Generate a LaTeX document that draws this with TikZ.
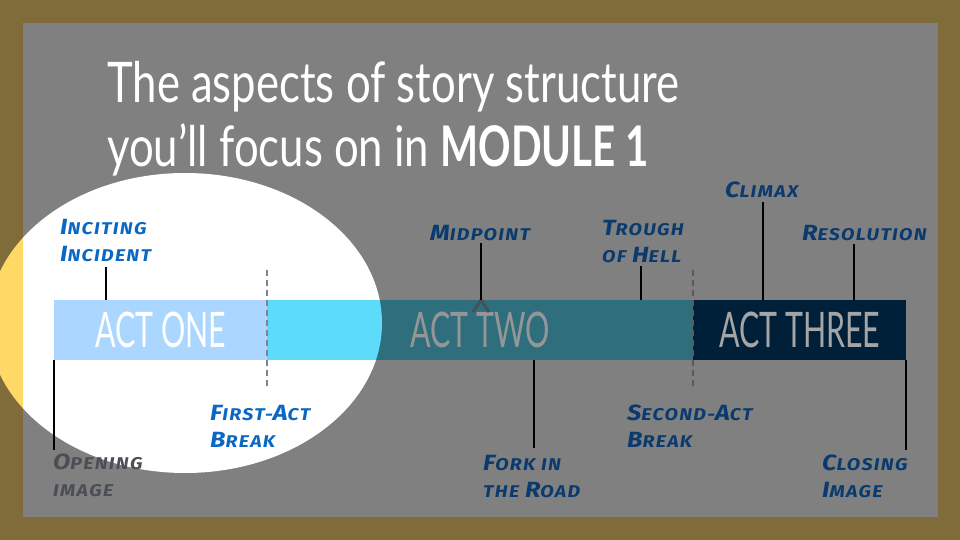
\documentclass[tikz,border=0pt]{standalone}
\usepackage{fontspec}
\usetikzlibrary{calc}
\newfontfamily\titlefont[FakeStretch=0.78, BoldFeatures={FakeStretch=0.72}]{Lato}
\newfontfamily\actfont[FakeStretch=0.62]{Lato}
\newfontfamily\handfont[LetterSpace=8, FakeStretch=1.15]{Fira Sans}
\definecolor{framebrown}{RGB}{128,108,58}
\definecolor{bggray}{RGB}{128,128,128}
\definecolor{spotyellow}{RGB}{255,217,102}
\definecolor{actone}{RGB}{171,214,255}
\definecolor{cyanbright}{RGB}{93,219,250}
\definecolor{acttwo}{RGB}{46,110,125}
\definecolor{actthree}{RGB}{0,32,58}
\definecolor{blueA}{RGB}{10,104,196}
\definecolor{blueB}{RGB}{10,58,110}
\definecolor{greyLbl}{RGB}{75,78,85}
\definecolor{caretc}{RGB}{70,82,90}
\newcommand\BL[1]{{\fontsize{22}{22}\selectfont #1}}
\begin{document}
\begin{tikzpicture}[x=1pt,y=-1pt,
  barbox/.style={inner sep=0pt, minimum height=60pt, anchor=north west, font=\actfont\fontsize{49}{49}\selectfont},
  lbl/.style={anchor=base west, align=left, inner sep=0pt, font=\handfont\bfseries\itshape\fontsize{17}{27}\selectfont},
  tick/.style={draw=black, line width=2pt},
  dashA/.style={draw={rgb,255:red,130;green,130;blue,140}, line width=2pt, dash pattern=on 6pt off 4pt},
  dashB/.style={draw={rgb,255:red,90;green,90;blue,90}, line width=2pt, dash pattern=on 6pt off 4pt}]
\useasboundingbox (0,0) rectangle (960,540);
\fill[framebrown] (0,0) rectangle (960,540);
\fill[spotyellow] (185,323) ellipse [x radius=197pt, y radius=150pt];
\fill[bggray] (23,23) rectangle (938,517);
\begin{scope}
\clip (23,23) rectangle (938,517);
\fill[white] (185,323) ellipse [x radius=197pt, y radius=150pt];
\end{scope}
% title
\node[anchor=base west, align=left, inner sep=0pt, text=white, font=\titlefont\fontsize{56}{64}\selectfont] (title) at (107,167)
  {The aspects of story structure\\you’ll focus on in \textbf{MODULE 1}};
% bar
\node[barbox, fill=actone, minimum width=213pt, text=white] (act1) at (54,300) {ACT ONE};
\node[barbox, fill=acttwo, minimum width=426pt, text={rgb,255:red,150;green,150;blue,150}] (act2) at (267,300) {ACT TWO};
\begin{scope}
\clip (185,323) ellipse [x radius=197pt, y radius=150pt];
\fill[cyanbright] (act2.north west) rectangle (act2.south east);
\end{scope}
\node[barbox, fill=actthree, minimum width=213pt, text={rgb,255:red,165;green,165;blue,165}] (act3) at (693,300) {ACT THREE};
% act breaks
\coordinate (fabT) at (267,270); \coordinate (fabB) at (267,388);
\draw[dashA] (fabT) -- (fabB);
\coordinate (sabT) at (693,270); \coordinate (sabB) at (693,388);
\draw[dashB] (sabT) -- (sabB);
% midpoint caret
\coordinate (midtip) at (481,300);
\draw[draw=caretc, line width=3pt] ($(midtip)+(-8,12)$) -- (midtip) -- ($(midtip)+(8,12)$);
% labels
\node[lbl, text=blueA] (inc) at (60,261) {\BL{I}NCITING\\\BL{I}NCIDENT};
\coordinate (incT) at (106,267);
\draw[tick] (incT) -- (incT |- act1.north);
\node[lbl, text=blueA] (fab) at (210,447) {\BL{F}IRST-\BL{A}CT\\\BL{B}REAK};
\node[lbl, text=greyLbl] (open) at (53,496) {\BL{O}PENING\\IMAGE};
\coordinate (openB) at (54,450);
\draw[tick] (act1.south west) -- (openB);
\node[lbl, text=blueB] (mid) at (430,240) {\BL{M}IDPOINT};
\coordinate (midT) at (481,243);
\draw[tick] (midT) -- (midtip);
\node[lbl, text=blueB] (trough) at (602,262) {\BL{T}ROUGH\\OF \BL{H}ELL};
\coordinate (trT) at (641,266);
\draw[tick] (trT) -- (trT |- act2.north);
\node[lbl, text=blueB] (fork) at (483,497) {\BL{F}ORK IN\\THE \BL{R}OAD};
\coordinate (forkB) at (534,448);
\draw[tick] (forkB |- act2.south) -- (forkB);
\node[lbl, text=blueB] (sab) at (627,447) {\BL{S}ECOND-\BL{A}CT\\\BL{B}REAK};
\node[lbl, text=blueB] (climax) at (725,197) {\BL{C}LIMAX};
\coordinate (clT) at (763,202);
\draw[tick] (clT) -- (clT |- act3.north);
\node[lbl, text=blueB] (res) at (802,240) {\BL{R}ESOLUTION};
\coordinate (resT) at (854,244);
\draw[tick] (resT) -- (resT |- act3.north);
\node[lbl, text=blueB] (close) at (822,497) {\BL{C}LOSING\\\BL{I}MAGE};
\coordinate (closeB) at (906,450);
\draw[tick] (closeB |- act3.south) -- (closeB);
\end{tikzpicture}
\end{document}
